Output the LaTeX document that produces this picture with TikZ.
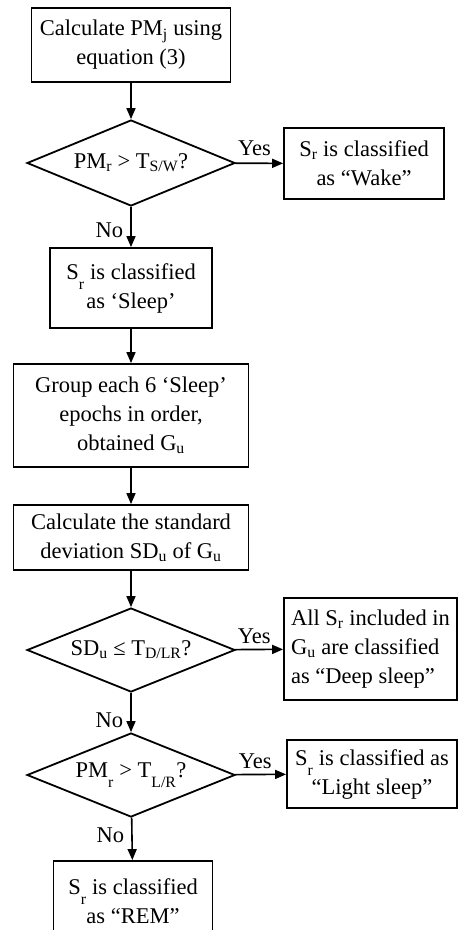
\documentclass[tikz,border=0pt]{standalone}
\usepackage{fontspec}
\setmainfont{Liberation Serif}
\usetikzlibrary{arrows.meta, shapes.geometric}

% subscript dropped well below the baseline
\newcommand{\lowsub}[1]{\raisebox{-0.7ex}{\textsubscript{#1}}}

\begin{document}
\begin{tikzpicture}[
    x=1pt, y=-1pt,
    % Define styles for reusable components
    stepbox/.style={draw, line width=1.8pt, align=center, inner sep=2pt, font=\fontsize{22.5}{29}\selectfont},
    decision/.style={draw, line width=1.8pt, diamond, aspect=2.4, inner sep=0pt, minimum width=208pt, minimum height=85pt, font=\fontsize{22.5}{29}\selectfont},
    answer/.style={inner sep=2pt, font=\fontsize{22.5}{29}\selectfont},
    arrow/.style={-{Triangle[length=11pt, width=9pt]}, line width=1.6pt}
]
    \useasboundingbox (0,0) rectangle (459,930);

    % --- WAKE / SLEEP ---
    \node[stepbox, minimum width=199pt, minimum height=74pt] (calc) at (131,45) {Calculate PM\textsubscript{j} using\\equation (3)};
    \node[decision, minimum height=86pt] (wake_test) at (131,163) {PM\textsubscript{r} > T\textsubscript{S/W}?};
    \node[stepbox, minimum width=160pt, minimum height=71pt] (wake) at (364,163.5) {S\textsubscript{r} is classified\\as “Wake”};
    \node[stepbox, minimum width=162pt, minimum height=80pt] (sleep) at (131,288) {S\lowsub{r} is classified\\as ‘Sleep’};

    % --- GROUPS ---
    \node[stepbox, minimum width=235pt, minimum height=103pt] (group) at (131,415.5) {Group each 6 ‘Sleep’\\epochs in order,\\obtained G\textsubscript{u}};
    \node[stepbox, minimum width=235pt, minimum height=65pt] (sd) at (131,537.5) {Calculate the standard\\deviation SD\textsubscript{u} of G\textsubscript{u}};

    % --- DEEP / LIGHT / REM ---
    \node[decision, minimum height=84pt] (deep_test) at (131,650) {SD\textsubscript{u} ≤ T\textsubscript{D/LR}?};
    \node[stepbox, align=left, minimum width=173pt, minimum height=102pt] (deep) at (370.5,649) {All S\textsubscript{r} included in\\G\textsubscript{u} are classified\\as “Deep sleep”};
    \node[decision, minimum height=84pt] (light_test) at (131,775) {PM\lowsub{r} > T\lowsub{L/R}?};
    \node[stepbox, minimum width=170pt, minimum height=68pt] (light) at (372,774) {S\lowsub{r} is classified as\\“Light sleep”};
    \node[stepbox, minimum width=159pt, minimum height=80pt] (rem) at (133,901) {S\lowsub{r} is classified\\as “REM”};

    % --- ARROWS ---
    \draw[arrow] (calc) -- (wake_test);
    \draw[arrow] (wake_test) -- node[answer, above=5pt, pos=0.4] (yes_wake) {Yes} (wake);
    \draw[arrow] (wake_test) -- node[answer, left=5pt, pos=0.57] (no_wake) {No} (sleep);
    \draw[arrow] (sleep) -- (group);
    \draw[arrow] (group) -- (sd);
    \draw[arrow] (sd) -- (deep_test);
    \draw[arrow] (deep_test) -- node[answer, above=3pt, pos=0.4] (yes_deep) {Yes} (deep);
    \draw[arrow] (deep_test) -- node[answer, left=5pt, pos=0.7] (no_deep) {No} (light_test);
    \draw[arrow] (light_test) -- node[answer, above=3pt, pos=0.4] (yes_light) {Yes} (light);
    \draw[arrow] (light_test) -- node[answer, left=5pt, pos=0.41] (no_light) {No} (rem);

\end{tikzpicture}
\end{document}
